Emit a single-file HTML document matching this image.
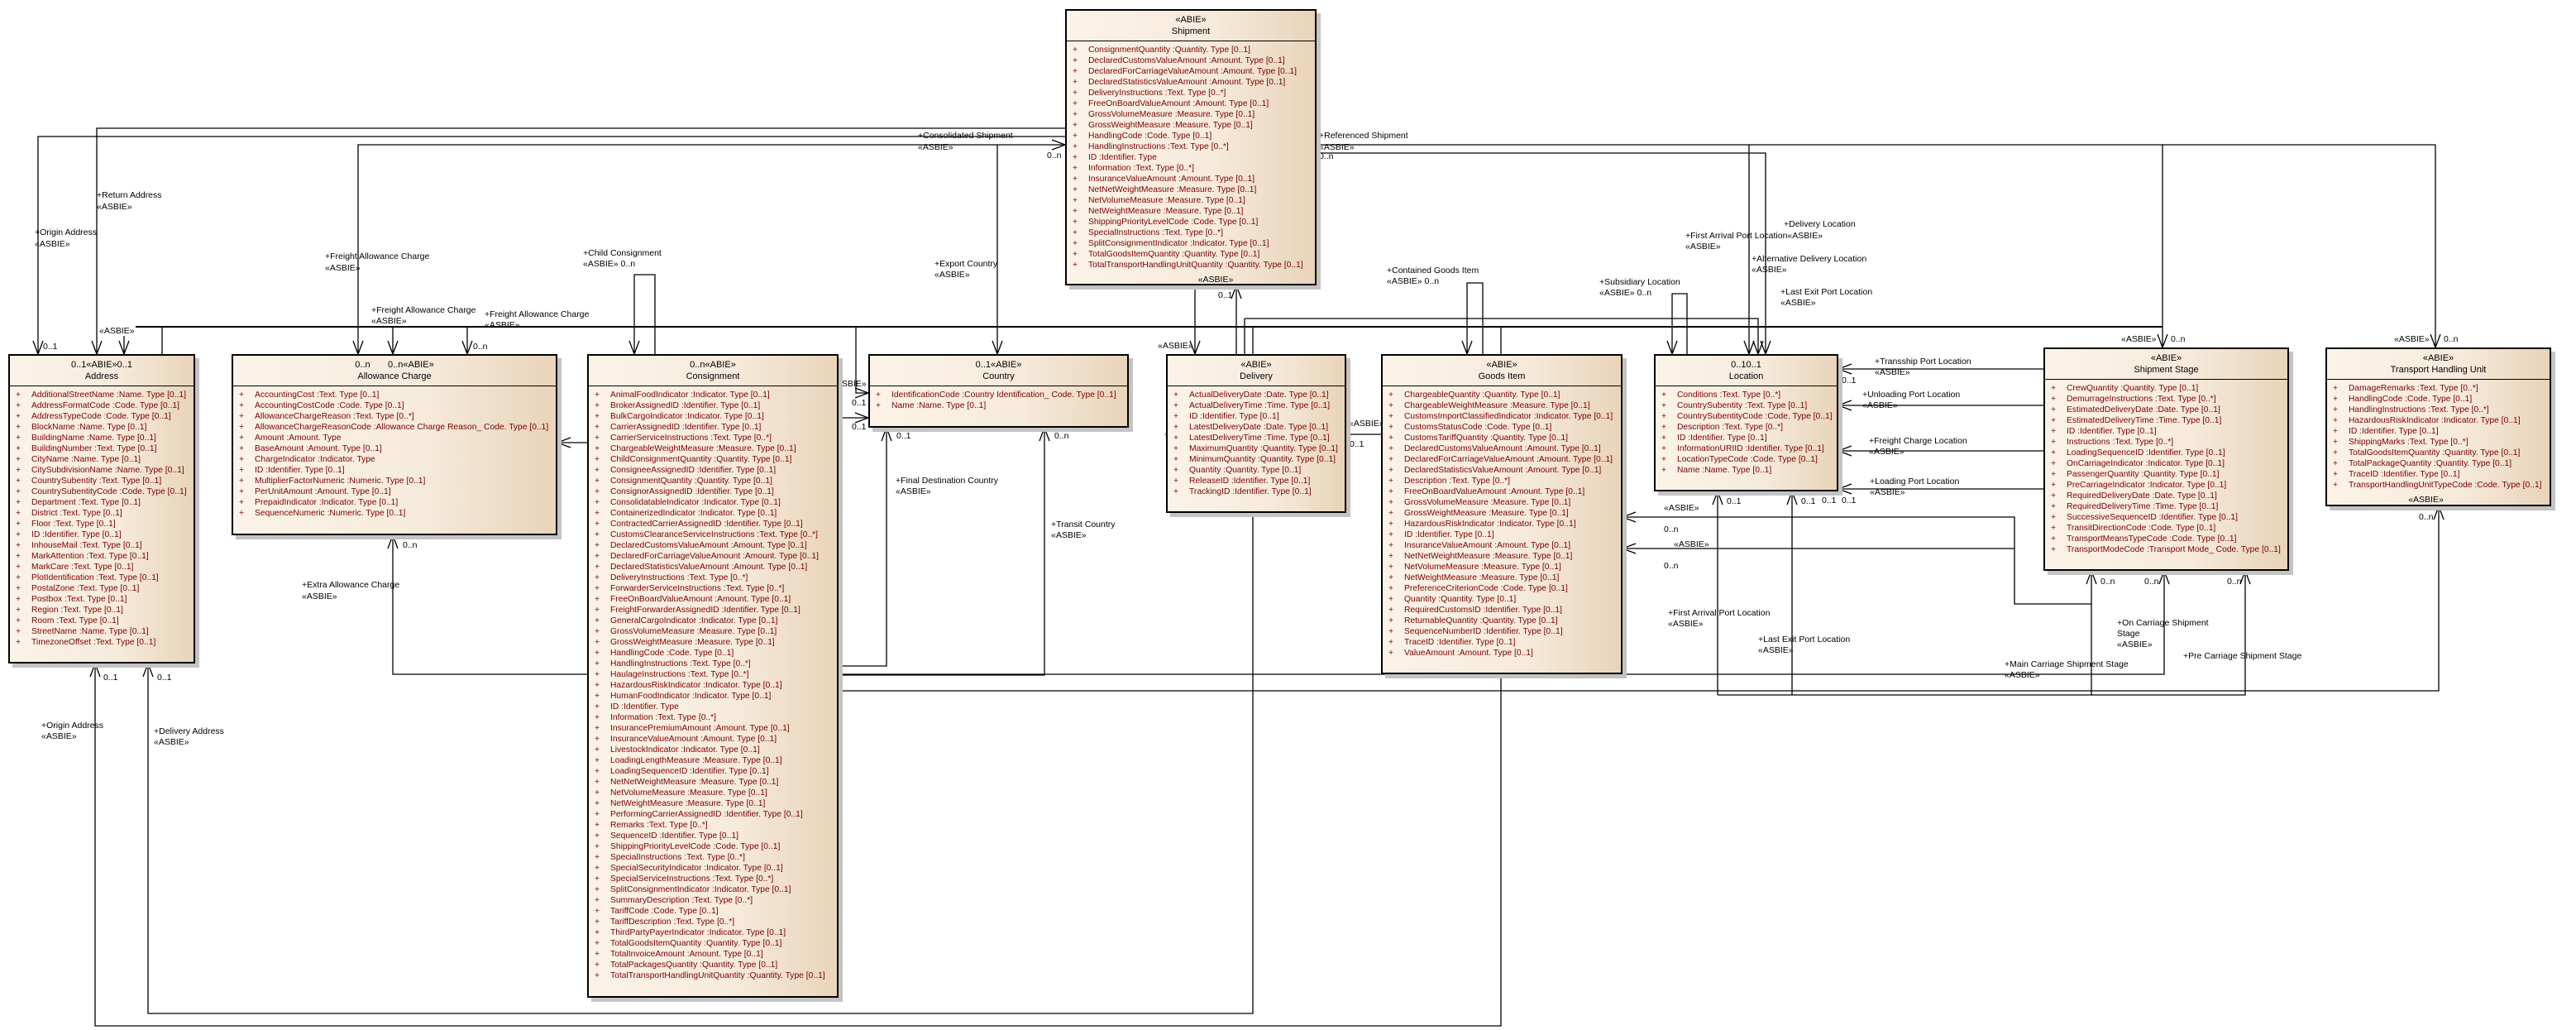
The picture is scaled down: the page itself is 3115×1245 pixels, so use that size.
<!DOCTYPE html>
<html><head><meta charset="utf-8"><style>
body{margin:0;width:3115px;height:1245px;background:#fff;position:relative;overflow:hidden;font-family:"Liberation Sans",sans-serif}
.b{position:absolute;border:2px solid #000;background:linear-gradient(90deg,#fcf3e8 0%,#f6eadb 60%,#e8d4b9 100%);box-shadow:5px 5px 0 #c4c4c4;box-sizing:border-box;z-index:2}
.h{height:37px;border-bottom:1px solid #000;text-align:center;font-size:11px;line-height:14px;padding-top:4px;box-sizing:border-box;color:#000}
.l{padding-top:4px}
.r{position:relative;padding-left:26px;font-size:10.3px;line-height:13px;color:#7a0000;white-space:nowrap}
.r:before{content:"+";position:absolute;left:7px}
.f{text-align:center;font-size:10.5px;line-height:14px;color:#000;margin-top:4px}
svg{position:absolute;left:0;top:0;z-index:1}
svg text{font-family:"Liberation Sans",sans-serif;font-size:10.5px;fill:#000}
</style></head><body>
<svg width="3115" height="1245" fill="none" stroke="#000" stroke-width="1.3">
<polyline points="1288,165 46,165 46,428"/>
<polyline points="1288,155 117,155 117,428"/>
<polyline points="1288,175 433,175 433,428"/>
<polyline points="164,395 2615,395" stroke-width="2"/>
<polyline points="150,406 150,428"/>
<polyline points="196,395 196,428"/>
<polyline points="475,395 475,428"/>
<polyline points="565,395 565,428"/>
<polyline points="1035,395 1035,475 1050,475"/>
<polyline points="767,428 767,332 792,332 792,428"/>
<polyline points="1206,175 1206,428"/>
<polyline points="1445,345 1445,428"/>
<polyline points="1495,345 1495,428"/>
<polyline points="1505,385 1505,428"/>
<polyline points="1515,395 1515,428"/>
<polyline points="1505,385 2126,385 2126,428"/>
<polyline points="1774,428 1774,342 1793,342 1793,428"/>
<polyline points="1815,395 1815,428"/>
<polyline points="2022,428 2022,355 2040,355 2040,428"/>
<polyline points="1592,175 2945,175"/>
<polyline points="1592,185 2135,185 2135,428"/>
<polyline points="2115,175 2115,428"/>
<polyline points="2615,175 2615,420"/>
<polyline points="2945,175 2945,420"/>
<polyline points="2223,446 2471,446"/>
<polyline points="2223,490 2471,490"/>
<polyline points="2223,545 2471,545"/>
<polyline points="2223,591 2471,591"/>
<polyline points="1962,625 2436,625 2436,730 2529,730 2529,690"/>
<polyline points="1962,663 2436,663"/>
<polyline points="1014,505 1050,505"/>
<polyline points="674,535 710,535"/>
<polyline points="1014,805 1072,805 1072,517"/>
<polyline points="1014,816 1263,816 1263,517"/>
<polyline points="475,647 475,815 710,815"/>
<polyline points="1014,815 2617,815 2617,690"/>
<polyline points="1014,835 2949,835 2949,612"/>
<polyline points="2077,594 2077,840"/>
<polyline points="2167,594 2167,840"/>
<polyline points="2715,690 2715,840 2077,840"/>
<polyline points="2529,730 2529,840"/>
<polyline points="115,802 115,1240 1815,1240 1815,815"/>
<polyline points="179,802 179,1225 1515,1225 1515,620"/>
<polyline points="1410,525 1670,525"/>
<g>
<polyline points="40,412 46,428 52,412"/><polyline points="111,412 117,428 123,412"/><polyline points="144,412 150,428 156,412"/>
<polyline points="427,412 433,428 439,412"/><polyline points="469,412 475,428 481,412"/><polyline points="559,412 565,428 571,412"/>
<polyline points="761,412 767,428 773,412"/><polyline points="1200,412 1206,428 1212,412"/><polyline points="1439,412 1445,428 1451,412"/>
<polyline points="1768,412 1774,428 1780,412"/><polyline points="2016,412 2022,428 2028,412"/>
<polyline points="2109,412 2115,428 2121,412"/><polyline points="2120,412 2126,428 2132,412"/><polyline points="2129,412 2135,428 2141,412"/>
<polyline points="2609,404 2615,420 2621,404"/><polyline points="2939,404 2945,420 2951,404"/>
</g>
<g>
<polyline points="1489,361 1495,345 1501,361"/><polyline points="469,663 475,647 481,663"/>
<polyline points="1066,533 1072,517 1078,533"/><polyline points="1257,533 1263,517 1269,533"/>
<polyline points="2071,610 2077,594 2083,610"/><polyline points="2161,610 2167,594 2173,610"/>
<polyline points="2523,706 2529,690 2535,706"/><polyline points="2611,706 2617,690 2623,706"/><polyline points="2709,706 2715,690 2721,706"/>
<polyline points="2943,628 2949,612 2955,628"/>
<polyline points="109,818 115,802 121,818"/><polyline points="173,818 179,802 185,818"/>
</g>
<g>
<polyline points="1272,169 1288,175 1272,181"/>
<polyline points="1034,469 1050,475 1034,481"/><polyline points="1034,499 1050,505 1034,511"/>
<polyline points="690,529 674,535 690,541"/><polyline points="1426,519 1410,525 1426,531"/>
<polyline points="2239,440 2223,446 2239,452"/><polyline points="2239,484 2223,490 2239,496"/><polyline points="2239,539 2223,545 2239,551"/><polyline points="2239,585 2223,591 2239,597"/>
<polyline points="1978,619 1962,625 1978,631"/><polyline points="1978,657 1962,663 1978,669"/>
</g>
<g stroke="none">
<text x="42" y="284">+Origin Address</text><text x="42" y="298">«ASBIE»</text>
<text x="117" y="239">+Return Address</text><text x="117" y="253">«ASBIE»</text>
<text x="393" y="313">+Freight Allowance Charge</text><text x="393" y="327">«ASBIE»</text>
<text x="449" y="378">+Freight Allowance Charge</text><text x="449" y="391">«ASBIE»</text>
<text x="586" y="383">+Freight Allowance Charge</text><text x="586" y="396">«ASBIE»</text>
<text x="120" y="403">«ASBIE»</text><text x="52" y="422">0..1</text><text x="572" y="422">0..n</text>
<text x="705" y="309">+Child Consignment</text><text x="705" y="322">«ASBIE» 0..n</text>
<text x="1110" y="167">+Consolidated Shipment</text><text x="1110" y="181">«ASBIE»</text><text x="1266" y="191">0..n</text>
<text x="1595" y="167">+Referenced Shipment</text><text x="1595" y="181">«ASBIE»</text><text x="1595" y="192">0..n</text>
<text x="1130" y="322">+Export Country</text><text x="1130" y="335">«ASBIE»</text>
<text x="1473" y="360">0..1</text><text x="1400" y="421">«ASBIE»</text>
<text x="1677" y="330">+Contained Goods Item</text><text x="1677" y="343">«ASBIE» 0..n</text>
<text x="2157" y="274">+Delivery Location</text>
<text x="2038" y="288">+First Arrival Port Location«ASBIE»</text><text x="2038" y="301">«ASBIE»</text>
<text x="2118" y="316">+Alternative Delivery Location</text><text x="2118" y="329">«ASBIE»</text>
<text x="1934" y="344">+Subsidiary Location</text><text x="1934" y="357">«ASBIE» 0..n</text>
<text x="2153" y="356">+Last Exit Port Location</text><text x="2153" y="369">«ASBIE»</text>
<text x="2565" y="413">«ASBIE»</text><text x="2625" y="413">0..n</text>
<text x="2895" y="413">«ASBIE»</text><text x="2955" y="413">0..n</text>
<text x="2267" y="440">+Transship Port Location</text><text x="2267" y="453">«ASBIE»</text><text x="2227" y="463">0..1</text>
<text x="2252" y="480">+Unloading Port Location</text><text x="2252" y="493">«ASBIE»</text>
<text x="2260" y="536">+Freight Charge Location</text><text x="2260" y="549">«ASBIE»</text><text x="2203" y="608">0..1</text>
<text x="2261" y="585">+Loading Port Location</text><text x="2261" y="598">«ASBIE»</text><text x="2227" y="608">0..1</text>
<text x="2012" y="617">«ASBIE»</text><text x="2012" y="643">0..n</text><text x="2024" y="661">«ASBIE»</text><text x="2012" y="687">0..n</text>
<text x="2088" y="609">0..1</text><text x="2178" y="609">0..1</text>
<text x="1005" y="467">«ASBIE»</text><text x="1030" y="490">0..1</text><text x="1030" y="519">0..1</text>
<text x="857" y="496">+Original Departure Country</text><text x="857" y="509">«ASBIE»</text>
<text x="653" y="550">0..n</text><text x="487" y="662">0..n</text>
<text x="387" y="588">+Freight Allowance Charge</text><text x="387" y="601">«ASBIE»</text>
<text x="365" y="710">+Extra Allowance Charge</text><text x="365" y="724">«ASBIE»</text>
<text x="1084" y="530">0..1</text><text x="1275" y="530">0..n</text>
<text x="1083" y="584">+Final Destination Country</text><text x="1083" y="597">«ASBIE»</text>
<text x="1271" y="637">+Transit Country</text><text x="1271" y="650">«ASBIE»</text>
<text x="1631" y="515">«ASBIE»</text><text x="1632" y="540">0..1</text>
<text x="2017" y="744">+First Arrival Port Location</text><text x="2017" y="757">«ASBIE»</text>
<text x="2126" y="776">+Last Exit Port Location</text><text x="2126" y="789">«ASBIE»</text>
<text x="2540" y="706">0..n</text><text x="2593" y="706">0..n</text><text x="2693" y="706">0..n</text><text x="2925" y="628">0..n</text>
<text x="2424" y="806">+Main Carriage Shipment Stage</text><text x="2424" y="819">«ASBIE»</text>
<text x="2560" y="756">+On Carriage Shipment</text><text x="2560" y="769">Stage</text><text x="2560" y="782">«ASBIE»</text>
<text x="2640" y="796">+Pre Carriage Shipment Stage</text>
<text x="125" y="822">0..1</text><text x="190" y="822">0..1</text>
<text x="50" y="880">+Origin Address</text><text x="50" y="893">«ASBIE»</text>
<text x="186" y="887">+Delivery Address</text><text x="186" y="900">«ASBIE»</text>
</g>
</svg>

<div class="b" style="left:1288px;top:11px;width:304px;height:334px"><div class="h">«ABIE»<br>Shipment</div><div class="l">
<div class="r">ConsignmentQuantity :Quantity. Type [0..1]</div><div class="r">DeclaredCustomsValueAmount :Amount. Type [0..1]</div><div class="r">DeclaredForCarriageValueAmount :Amount. Type [0..1]</div><div class="r">DeclaredStatisticsValueAmount :Amount. Type [0..1]</div><div class="r">DeliveryInstructions :Text. Type [0..*]</div><div class="r">FreeOnBoardValueAmount :Amount. Type [0..1]</div><div class="r">GrossVolumeMeasure :Measure. Type [0..1]</div><div class="r">GrossWeightMeasure :Measure. Type [0..1]</div><div class="r">HandlingCode :Code. Type [0..1]</div><div class="r">HandlingInstructions :Text. Type [0..*]</div><div class="r">ID :Identifier. Type</div><div class="r">Information :Text. Type [0..*]</div><div class="r">InsuranceValueAmount :Amount. Type [0..1]</div><div class="r">NetNetWeightMeasure :Measure. Type [0..1]</div><div class="r">NetVolumeMeasure :Measure. Type [0..1]</div><div class="r">NetWeightMeasure :Measure. Type [0..1]</div><div class="r">ShippingPriorityLevelCode :Code. Type [0..1]</div><div class="r">SpecialInstructions :Text. Type [0..*]</div><div class="r">SplitConsignmentIndicator :Indicator. Type [0..1]</div><div class="r">TotalGoodsItemQuantity :Quantity. Type [0..1]</div><div class="r">TotalTransportHandlingUnitQuantity :Quantity. Type [0..1]</div></div><div class="f" style="padding-left:60px">«ASBIE»</div></div>

<div class="b" style="left:10px;top:428px;width:226px;height:374px"><div class="h">0..1«ABIE»0..1<br>Address</div><div class="l">
<div class="r">AdditionalStreetName :Name. Type [0..1]</div><div class="r">AddressFormatCode :Code. Type [0..1]</div><div class="r">AddressTypeCode :Code. Type [0..1]</div><div class="r">BlockName :Name. Type [0..1]</div><div class="r">BuildingName :Name. Type [0..1]</div><div class="r">BuildingNumber :Text. Type [0..1]</div><div class="r">CityName :Name. Type [0..1]</div><div class="r">CitySubdivisionName :Name. Type [0..1]</div><div class="r">CountrySubentity :Text. Type [0..1]</div><div class="r">CountrySubentityCode :Code. Type [0..1]</div><div class="r">Department :Text. Type [0..1]</div><div class="r">District :Text. Type [0..1]</div><div class="r">Floor :Text. Type [0..1]</div><div class="r">ID :Identifier. Type [0..1]</div><div class="r">InhouseMail :Text. Type [0..1]</div><div class="r">MarkAttention :Text. Type [0..1]</div><div class="r">MarkCare :Text. Type [0..1]</div><div class="r">PlotIdentification :Text. Type [0..1]</div><div class="r">PostalZone :Text. Type [0..1]</div><div class="r">Postbox :Text. Type [0..1]</div><div class="r">Region :Text. Type [0..1]</div><div class="r">Room :Text. Type [0..1]</div><div class="r">StreetName :Name. Type [0..1]</div><div class="r">TimezoneOffset :Text. Type [0..1]</div></div></div>

<div class="b" style="left:280px;top:428px;width:394px;height:219px"><div class="h">0..n &nbsp; &nbsp; &nbsp; 0..n«ABIE»<br>Allowance Charge</div><div class="l">
<div class="r">AccountingCost :Text. Type [0..1]</div><div class="r">AccountingCostCode :Code. Type [0..1]</div><div class="r">AllowanceChargeReason :Text. Type [0..*]</div><div class="r">AllowanceChargeReasonCode :Allowance Charge Reason_ Code. Type [0..1]</div><div class="r">Amount :Amount. Type</div><div class="r">BaseAmount :Amount. Type [0..1]</div><div class="r">ChargeIndicator :Indicator. Type</div><div class="r">ID :Identifier. Type [0..1]</div><div class="r">MultiplierFactorNumeric :Numeric. Type [0..1]</div><div class="r">PerUnitAmount :Amount. Type [0..1]</div><div class="r">PrepaidIndicator :Indicator. Type [0..1]</div><div class="r">SequenceNumeric :Numeric. Type [0..1]</div></div></div>

<div class="b" style="left:710px;top:428px;width:304px;height:778px"><div class="h">0..n«ABIE»<br>Consignment</div><div class="l">
<div class="r">AnimalFoodIndicator :Indicator. Type [0..1]</div><div class="r">BrokerAssignedID :Identifier. Type [0..1]</div><div class="r">BulkCargoIndicator :Indicator. Type [0..1]</div><div class="r">CarrierAssignedID :Identifier. Type [0..1]</div><div class="r">CarrierServiceInstructions :Text. Type [0..*]</div><div class="r">ChargeableWeightMeasure :Measure. Type [0..1]</div><div class="r">ChildConsignmentQuantity :Quantity. Type [0..1]</div><div class="r">ConsigneeAssignedID :Identifier. Type [0..1]</div><div class="r">ConsignmentQuantity :Quantity. Type [0..1]</div><div class="r">ConsignorAssignedID :Identifier. Type [0..1]</div><div class="r">ConsolidatableIndicator :Indicator. Type [0..1]</div><div class="r">ContainerizedIndicator :Indicator. Type [0..1]</div><div class="r">ContractedCarrierAssignedID :Identifier. Type [0..1]</div><div class="r">CustomsClearanceServiceInstructions :Text. Type [0..*]</div><div class="r">DeclaredCustomsValueAmount :Amount. Type [0..1]</div><div class="r">DeclaredForCarriageValueAmount :Amount. Type [0..1]</div><div class="r">DeclaredStatisticsValueAmount :Amount. Type [0..1]</div><div class="r">DeliveryInstructions :Text. Type [0..*]</div><div class="r">ForwarderServiceInstructions :Text. Type [0..*]</div><div class="r">FreeOnBoardValueAmount :Amount. Type [0..1]</div><div class="r">FreightForwarderAssignedID :Identifier. Type [0..1]</div><div class="r">GeneralCargoIndicator :Indicator. Type [0..1]</div><div class="r">GrossVolumeMeasure :Measure. Type [0..1]</div><div class="r">GrossWeightMeasure :Measure. Type [0..1]</div><div class="r">HandlingCode :Code. Type [0..1]</div><div class="r">HandlingInstructions :Text. Type [0..*]</div><div class="r">HaulageInstructions :Text. Type [0..*]</div><div class="r">HazardousRiskIndicator :Indicator. Type [0..1]</div><div class="r">HumanFoodIndicator :Indicator. Type [0..1]</div><div class="r">ID :Identifier. Type</div><div class="r">Information :Text. Type [0..*]</div><div class="r">InsurancePremiumAmount :Amount. Type [0..1]</div><div class="r">InsuranceValueAmount :Amount. Type [0..1]</div><div class="r">LivestockIndicator :Indicator. Type [0..1]</div><div class="r">LoadingLengthMeasure :Measure. Type [0..1]</div><div class="r">LoadingSequenceID :Identifier. Type [0..1]</div><div class="r">NetNetWeightMeasure :Measure. Type [0..1]</div><div class="r">NetVolumeMeasure :Measure. Type [0..1]</div><div class="r">NetWeightMeasure :Measure. Type [0..1]</div><div class="r">PerformingCarrierAssignedID :Identifier. Type [0..1]</div><div class="r">Remarks :Text. Type [0..*]</div><div class="r">SequenceID :Identifier. Type [0..1]</div><div class="r">ShippingPriorityLevelCode :Code. Type [0..1]</div><div class="r">SpecialInstructions :Text. Type [0..*]</div><div class="r">SpecialSecurityIndicator :Indicator. Type [0..1]</div><div class="r">SpecialServiceInstructions :Text. Type [0..*]</div><div class="r">SplitConsignmentIndicator :Indicator. Type [0..1]</div><div class="r">SummaryDescription :Text. Type [0..*]</div><div class="r">TariffCode :Code. Type [0..1]</div><div class="r">TariffDescription :Text. Type [0..*]</div><div class="r">ThirdPartyPayerIndicator :Indicator. Type [0..1]</div><div class="r">TotalGoodsItemQuantity :Quantity. Type [0..1]</div><div class="r">TotalInvoiceAmount :Amount. Type [0..1]</div><div class="r">TotalPackagesQuantity :Quantity. Type [0..1]</div><div class="r">TotalTransportHandlingUnitQuantity :Quantity. Type [0..1]</div></div></div>

<div class="b" style="left:1050px;top:428px;width:315px;height:89px"><div class="h">0..1«ABIE»<br>Country</div><div class="l">
<div class="r">IdentificationCode :Country Identification_ Code. Type [0..1]</div><div class="r">Name :Name. Type [0..1]</div></div></div>

<div class="b" style="left:1410px;top:428px;width:218px;height:192px"><div class="h">«ABIE»<br>Delivery</div><div class="l">
<div class="r">ActualDeliveryDate :Date. Type [0..1]</div><div class="r">ActualDeliveryTime :Time. Type [0..1]</div><div class="r">ID :Identifier. Type [0..1]</div><div class="r">LatestDeliveryDate :Date. Type [0..1]</div><div class="r">LatestDeliveryTime :Time. Type [0..1]</div><div class="r">MaximumQuantity :Quantity. Type [0..1]</div><div class="r">MinimumQuantity :Quantity. Type [0..1]</div><div class="r">Quantity :Quantity. Type [0..1]</div><div class="r">ReleaseID :Identifier. Type [0..1]</div><div class="r">TrackingID :Identifier. Type [0..1]</div></div></div>

<div class="b" style="left:1670px;top:428px;width:292px;height:387px"><div class="h">«ABIE»<br>Goods Item</div><div class="l">
<div class="r">ChargeableQuantity :Quantity. Type [0..1]</div><div class="r">ChargeableWeightMeasure :Measure. Type [0..1]</div><div class="r">CustomsImportClassifiedIndicator :Indicator. Type [0..1]</div><div class="r">CustomsStatusCode :Code. Type [0..1]</div><div class="r">CustomsTariffQuantity :Quantity. Type [0..1]</div><div class="r">DeclaredCustomsValueAmount :Amount. Type [0..1]</div><div class="r">DeclaredForCarriageValueAmount :Amount. Type [0..1]</div><div class="r">DeclaredStatisticsValueAmount :Amount. Type [0..1]</div><div class="r">Description :Text. Type [0..*]</div><div class="r">FreeOnBoardValueAmount :Amount. Type [0..1]</div><div class="r">GrossVolumeMeasure :Measure. Type [0..1]</div><div class="r">GrossWeightMeasure :Measure. Type [0..1]</div><div class="r">HazardousRiskIndicator :Indicator. Type [0..1]</div><div class="r">ID :Identifier. Type [0..1]</div><div class="r">InsuranceValueAmount :Amount. Type [0..1]</div><div class="r">NetNetWeightMeasure :Measure. Type [0..1]</div><div class="r">NetVolumeMeasure :Measure. Type [0..1]</div><div class="r">NetWeightMeasure :Measure. Type [0..1]</div><div class="r">PreferenceCriterionCode :Code. Type [0..1]</div><div class="r">Quantity :Quantity. Type [0..1]</div><div class="r">RequiredCustomsID :Identifier. Type [0..1]</div><div class="r">ReturnableQuantity :Quantity. Type [0..1]</div><div class="r">SequenceNumberID :Identifier. Type [0..1]</div><div class="r">TraceID :Identifier. Type [0..1]</div><div class="r">ValueAmount :Amount. Type [0..1]</div></div></div>

<div class="b" style="left:2000px;top:428px;width:223px;height:166px"><div class="h">0..10..1<br>Location</div><div class="l">
<div class="r">Conditions :Text. Type [0..*]</div><div class="r">CountrySubentity :Text. Type [0..1]</div><div class="r">CountrySubentityCode :Code. Type [0..1]</div><div class="r">Description :Text. Type [0..*]</div><div class="r">ID :Identifier. Type [0..1]</div><div class="r">InformationURIID :Identifier. Type [0..1]</div><div class="r">LocationTypeCode :Code. Type [0..1]</div><div class="r">Name :Name. Type [0..1]</div></div></div>

<div class="b" style="left:2471px;top:420px;width:297px;height:270px"><div class="h">«ABIE»<br>Shipment Stage</div><div class="l">
<div class="r">CrewQuantity :Quantity. Type [0..1]</div><div class="r">DemurrageInstructions :Text. Type [0..*]</div><div class="r">EstimatedDeliveryDate :Date. Type [0..1]</div><div class="r">EstimatedDeliveryTime :Time. Type [0..1]</div><div class="r">ID :Identifier. Type [0..1]</div><div class="r">Instructions :Text. Type [0..*]</div><div class="r">LoadingSequenceID :Identifier. Type [0..1]</div><div class="r">OnCarriageIndicator :Indicator. Type [0..1]</div><div class="r">PassengerQuantity :Quantity. Type [0..1]</div><div class="r">PreCarriageIndicator :Indicator. Type [0..1]</div><div class="r">RequiredDeliveryDate :Date. Type [0..1]</div><div class="r">RequiredDeliveryTime :Time. Type [0..1]</div><div class="r">SuccessiveSequenceID :Identifier. Type [0..1]</div><div class="r">TransitDirectionCode :Code. Type [0..1]</div><div class="r">TransportMeansTypeCode :Code. Type [0..1]</div><div class="r">TransportModeCode :Transport Mode_ Code. Type [0..1]</div></div></div>

<div class="b" style="left:2812px;top:420px;width:273px;height:192px"><div class="h">«ABIE»<br>Transport Handling Unit</div><div class="l">
<div class="r">DamageRemarks :Text. Type [0..*]</div><div class="r">HandlingCode :Code. Type [0..1]</div><div class="r">HandlingInstructions :Text. Type [0..*]</div><div class="r">HazardousRiskIndicator :Indicator. Type [0..1]</div><div class="r">ID :Identifier. Type [0..1]</div><div class="r">ShippingMarks :Text. Type [0..*]</div><div class="r">TotalGoodsItemQuantity :Quantity. Type [0..1]</div><div class="r">TotalPackageQuantity :Quantity. Type [0..1]</div><div class="r">TraceID :Identifier. Type [0..1]</div><div class="r">TransportHandlingUnitTypeCode :Code. Type [0..1]</div></div><div class="f" style="padding-right:30px">«ASBIE»</div></div>
</body></html>
